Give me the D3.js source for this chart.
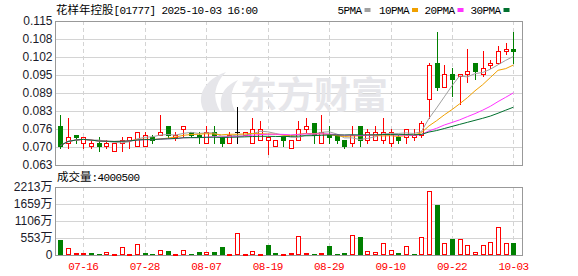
<!DOCTYPE html>
<html>
<head>
<meta charset="utf-8">
<script src="https://cdn.jsdelivr.net/npm/d3@7"></script>
<style>
  body { margin: 0; background: #fff; }
  svg { display: block; }
</style>
</head>
<body>
<script>
const dates = ["07-11","07-14","07-15","07-16","07-17","07-18","07-21","07-22","07-23","07-24",
  "07-25","07-28","07-29","07-30","07-31","08-01","08-04","08-05","08-06","08-07",
  "08-08","08-11","08-12","08-13","08-14","08-15","08-18","08-19","08-20","08-21",
  "08-22","08-25","08-26","08-27","08-28","08-29","09-01","09-02","09-03","09-04",
  "09-05","09-08","09-09","09-10","09-11","09-12","09-15","09-16","09-17","09-18",
  "09-19","09-22","09-23","09-24","09-25","09-26","09-29","09-30","10-02","10-03"];

const open = [.077,.071,.074,.071,.070,.071,.070,.068,.071,.072,
  .070,.070,.073,.074,.077,.073,.076,.075,.074,.071,
  .075,.073,.071,.075,.074,.071,.072,.072,.070,.073,
  .069,.072,.076,.078,.071,.074,.074,.072,.071,.077,
  .072,.072,.072,.071,.073,.073,.073,.074,.087,.100,
  .091,.096,.095,.096,.100,.096,.099,.100,.104,.105];

const high = [.081,.080,.074,.073,.072,.073,.072,.071,.073,.073,
  .075,.075,.074,.081,.077,.075,.077,.075,.075,.077,
  .077,.073,.075,.084,.075,.080,.079,.073,.072,.073,
  .072,.079,.080,.078,.081,.077,.074,.072,.077,.077,
  .076,.077,.080,.076,.074,.076,.076,.079,.100,.111,
  .099,.098,.096,.105,.100,.104,.101,.106,.107,.111];

const low = [.069,.069,.071,.069,.069,.068,.069,.068,.068,.069,
  .070,.070,.071,.074,.073,.072,.073,.073,.071,.071,
  .071,.070,.071,.071,.074,.071,.072,.067,.070,.070,
  .069,.072,.075,.071,.071,.071,.071,.069,.070,.070,
  .071,.072,.071,.070,.071,.071,.072,.073,.080,.090,
  .091,.088,.085,.093,.094,.095,.098,.100,.103,.100];

const close = [.070,.073,.073,.073,.071,.070,.071,.071,.072,.073,
  .075,.074,.072,.075,.074,.074,.077,.074,.073,.075,
  .074,.071,.074,.075,.075,.076,.076,.073,.072,.072,
  .072,.076,.077,.074,.075,.073,.072,.070,.074,.072,
  .075,.075,.075,.075,.072,.076,.074,.078,.099,.091,
  .096,.094,.096,.097,.097,.098,.100,.104,.105,.104];

const volume = [4900000,2200000,650000,650000,650000,300000,900000,300000,2500000,300000,
  3500000,650000,300000,1500000,1300000,300000,1500000,300000,1000000,900000,
  1000000,2600000,300000,7000000,300000,1200000,300000,3300000,650000,300000,
  650000,6100000,650000,300000,650000,2900000,300000,650000,6400000,5900000,
  1200000,900000,3800000,1500000,650000,2800000,300000,5750000,20800000,16300000,
  3800000,5200000,5200000,3100000,900000,3100000,4100000,9000000,3800000,4000500];

const priceTicks = [0.063, 0.0695, 0.076, 0.0825, 0.089, 0.0955, 0.102, 0.1085, 0.115];
const priceLabels = ["0.063","0.070","0.076","0.083","0.089","0.095","0.102","0.108","0.115"];
const volTicks = [0, 5532500, 11065000, 16597500, 22130000];
const volLabels = ["0","553万","1106万","1659万","2213万"];
const dateTicks = ["07-16","07-28","08-07","08-19","08-29","09-10","09-22","10-03"];

const maPeriods = [5, 10, 20, 30];
const maNames = ["5PMA", "10PMA", "20PMA", "30PMA"];
const maColors = ["#a0a0a0", "#f0a000", "#ff33ff", "#00702e"];

const W = 578, H = 276,
      left = 55, right = 522,
      mainTop = 21, mainBot = 165,
      volTop = 187, volBot = 255;

const RED = "#ff0000", GREEN = "#008000", GRID = "#d4d4d4", FRAME = "#999";
const MONO = "'Liberation Mono', 'DejaVu Sans Mono', monospace";
const CJK = "'Noto Sans CJK SC', sans-serif";
const SANS = "'Liberation Sans', Arial, sans-serif";

let svg = d3.select("body").append("svg")
      .attr("width", W).attr("height", H);

let x = d3.scalePoint().domain(dates).range([60.3, 513.4]),
    y = d3.scaleLinear().domain([0.063, 0.115]).range([mainBot, mainTop]),
    yv = d3.scaleLinear().domain([0, 22130000]).range([volBot, volTop]);

const px = (v) => Math.round(v) + 0.5;

// grid
let grid = svg.append("g");

grid.selectAll(".hp").data(priceTicks).enter().append("line")
  .attr("x1", left).attr("x2", right)
  .attr("y1", (d) => px(y(d))).attr("y2", (d) => px(y(d)))
  .attr("stroke", GRID);

grid.selectAll(".hv").data(volTicks).enter().append("line")
  .attr("x1", left).attr("x2", right)
  .attr("y1", (d) => px(yv(d))).attr("y2", (d) => px(yv(d)))
  .attr("stroke", GRID);

[[mainTop, mainBot], [volTop, volBot]].forEach(([t, b]) => {
  grid.selectAll(null).data(dateTicks).enter().append("line")
    .attr("x1", (d) => px(x(d))).attr("x2", (d) => px(x(d)))
    .attr("y1", t).attr("y2", b)
    .attr("stroke", GRID).attr("stroke-dasharray", "4,3");

  grid.append("rect")
    .attr("x", left + 0.5).attr("y", px(t))
    .attr("width", right - left).attr("height", Math.round(b) - Math.round(t))
    .attr("fill", "none").attr("stroke", FRAME);
});

// watermark
let wm = svg.append("g").attr("fill", "#e6e6ea");
wm.append("path")
  .attr("d", "M204,111 C196,96 204,80 226,72 C214,84 212,98 220,111 Z M222,111 C218,97 224,86 238,80 C230,90 230,101 235,111 Z");
wm.append("text")
  .attr("x", 240).attr("y", 109)
  .style("font-family", CJK).style("font-size", "37px").style("font-weight", "bold")
  .text("东方财富");

// candles
let candles = svg.append("g");

dates.forEach((d, i) => {
  let cx = Math.round(x(d)),
      up = close[i] > open[i],
      flat = close[i] === open[i],
      color = flat ? "#000" : (up ? RED : GREEN),
      yt = Math.round(y(Math.max(open[i], close[i]))),
      yb = Math.round(y(Math.min(open[i], close[i])));

  candles.append("line")
    .attr("x1", cx + 0.5).attr("x2", cx + 0.5)
    .attr("y1", Math.round(y(high[i]))).attr("y2", Math.round(y(low[i])) + 1)
    .attr("stroke", color);

  if (flat) {
    candles.append("line")
      .attr("x1", cx - 2).attr("x2", cx + 3)
      .attr("y1", yt + 0.5).attr("y2", yt + 0.5)
      .attr("stroke", color);
  } else if (up) {
    candles.append("rect")
      .attr("x", cx - 1.5).attr("y", yt + 0.5)
      .attr("width", 4).attr("height", Math.max(1, yb - yt))
      .attr("fill", "#fff").attr("stroke", color);
  } else {
    candles.append("rect")
      .attr("x", cx - 2).attr("y", yt)
      .attr("width", 5).attr("height", Math.max(1, yb - yt + 1))
      .attr("fill", color);
  }
});

// moving averages
let line = d3.line()
      .x((d) => x(d.date))
      .y((d) => y(d.value));

maPeriods.forEach((n, k) => {
  let pts = dates.map((d, i) => {
    let win = close.slice(Math.max(0, i - n + 1), i + 1);
    return {date: d, value: d3.mean(win)};
  });

  svg.append("path")
    .datum(pts)
    .attr("d", line)
    .attr("fill", "none")
    .attr("stroke", maColors[k])
    .attr("stroke-width", 1);
});

// volume bars
let vols = svg.append("g");

dates.forEach((d, i) => {
  let cx = Math.round(x(d)),
      rising = i === 0 ? close[i] >= open[i] : close[i] >= close[i - 1],
      top = Math.round(yv(volume[i]));

  if (rising) {
    vols.append("rect")
      .attr("x", cx - 1.5).attr("y", top + 0.5)
      .attr("width", 4).attr("height", Math.max(1, volBot - top - 1))
      .attr("fill", "#fff").attr("stroke", RED);
  } else {
    vols.append("rect")
      .attr("x", cx - 2).attr("y", top)
      .attr("width", 5).attr("height", volBot - top)
      .attr("fill", GREEN);
  }
});

// axis labels
svg.selectAll(".pl").data(priceTicks).enter().append("text")
  .attr("x", 52.5).attr("y", (d) => y(d)).attr("dy", "0.35em")
  .attr("text-anchor", "end")
  .style("font-family", SANS).style("font-size", "12px").attr("fill", "#1a1a2a")
  .text((d, i) => priceLabels[i]);

svg.selectAll(".vl").data(volTicks).enter().append("text")
  .attr("x", 52.5).attr("y", (d) => yv(d)).attr("dy", "0.35em")
  .attr("text-anchor", "end")
  .style("font-family", SANS + ", " + CJK).style("font-size", "12px").attr("fill", "#1a1a2a")
  .text((d, i) => volLabels[i]);

svg.selectAll(".dl").data(dateTicks).enter().append("text")
  .attr("x", (d) => x(d)).attr("y", 270)
  .attr("text-anchor", "middle")
  .style("font-family", MONO).style("font-size", "11px").style("letter-spacing", "-0.6px")
  .attr("fill", RED)
  .text((d) => d);

// title and legend
let title = svg.append("text").attr("x", 56).attr("y", 14).attr("fill", "#000");
title.append("tspan").style("font-family", CJK).style("font-size", "11.5px").text("花样年控股");
title.append("tspan").style("font-family", MONO).style("font-size", "11px").style("letter-spacing", "-0.6px")
  .text("[01777] 2025-10-03 16:00");

let legendX = [337.5, 379, 424.5, 470.5];
maNames.forEach((name, k) => {
  let t = svg.append("text")
    .attr("x", legendX[k]).attr("y", 14)
    .style("font-family", MONO).style("font-size", "11px").style("letter-spacing", "-0.6px")
    .attr("fill", "#000")
    .text(name);
  let w = t.node().getComputedTextLength();
  svg.append("rect")
    .attr("x", legendX[k] + w + 3).attr("y", 8)
    .attr("width", 6).attr("height", 4)
    .attr("fill", maColors[k]);
});

let vt = svg.append("text").attr("x", 57).attr("y", 181).attr("fill", "#000");
vt.append("tspan").style("font-family", CJK).style("font-size", "11.5px").text("成交量");
vt.append("tspan").style("font-family", MONO).style("font-size", "11px").style("letter-spacing", "-0.6px")
  .text(":" + volume[volume.length - 1]);
</script>
</body>
</html>
